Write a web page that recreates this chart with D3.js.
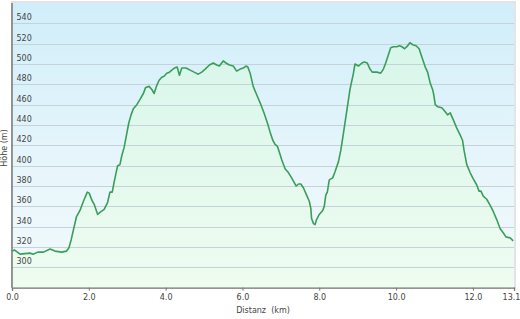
<!DOCTYPE html>
<html><head><meta charset="utf-8">
<script src="https://cdn.jsdelivr.net/npm/d3@7"></script>
<style>
html,body{margin:0;padding:0;background:#fff;}
svg{display:block;font-family:"DejaVu Sans",Verdana,sans-serif;}
</style></head>
<body><svg id="c" width="520" height="319"></svg>
<script>
const distanceKm = [0.00,0.07,0.21,0.47,0.55,0.67,0.82,0.99,1.12,1.29,1.42,1.48,1.54,1.60,1.68,1.77,1.86,1.96,2.01,2.08,2.14,2.23,2.29,2.40,2.49,2.55,2.61,2.66,2.75,2.81,2.86,2.92,2.99,3.04,3.10,3.16,3.25,3.33,3.42,3.48,3.57,3.64,3.70,3.77,3.83,3.90,3.96,4.03,4.10,4.16,4.23,4.30,4.36,4.42,4.53,4.64,4.74,4.85,4.94,5.03,5.14,5.24,5.33,5.40,5.50,5.57,5.66,5.76,5.85,5.94,6.02,6.09,6.14,6.20,6.28,6.39,6.48,6.56,6.65,6.72,6.79,6.85,6.91,6.98,7.02,7.11,7.20,7.28,7.40,7.46,7.52,7.59,7.67,7.74,7.78,7.80,7.85,7.89,7.93,8.00,8.09,8.13,8.17,8.21,8.26,8.35,8.41,8.50,8.56,8.63,8.72,8.80,8.89,8.93,9.02,9.11,9.17,9.25,9.32,9.38,9.50,9.60,9.67,9.73,9.80,9.86,9.93,10.02,10.09,10.15,10.22,10.28,10.36,10.43,10.52,10.60,10.67,10.76,10.82,10.89,10.95,10.98,11.02,11.08,11.19,11.28,11.34,11.41,11.49,11.58,11.67,11.73,11.77,11.84,11.93,12.01,12.10,12.16,12.21,12.27,12.36,12.45,12.53,12.62,12.71,12.79,12.86,12.97,13.05];
const elevationM = [316,317,313,314,313,315,315,318,316,315,316,319,327,337,350,356,365,374,373,366,362,352,354,357,364,374,374,384,400,401,410,418,432,442,450,456,460,465,471,477,478,475,471,479,484,487,488,491,492,494,496,497,489,496,496,494,492,490,492,495,499,501,499,498,503,501,499,498,493,495,496,498,497,491,478,468,460,452,442,433,425,421,419,411,406,397,393,388,380,382,382,378,371,365,358,348,343,342,347,352,356,360,371,374,386,388,394,404,415,432,455,475,491,500,498,501,502,501,495,492,492,491,495,501,509,516,517,517,518,517,515,517,521,519,518,515,507,497,492,481,475,470,460,458,457,453,450,452,445,437,430,425,415,401,393,387,381,375,375,370,367,361,355,347,338,334,330,329,326];
const xTickValues = [0,2,4,6,8,10,12,13.07];
const yTickValues = [300,320,340,360,380,400,420,440,460,480,500,520,540];
const xTitle = "Distanz  (km)";
const yTitle = "Höhe (m)";

const svg = d3.select("#c");
const L = 12, R = 514, T = 3, B = 287.7;
const x = d3.scaleLinear().domain([0, 13.07]).range([L, R]);
const y = d3.scaleLinear().domain([280, 560]).range([B, T]);
const data = distanceKm.map((d,i)=>({d, e: elevationM[i]}));

const defs = svg.append("defs");
const bg = defs.append("linearGradient").attr("id","bg").attr("x1",0).attr("y1",0).attr("x2",0).attr("y2",1);
bg.append("stop").attr("offset","0%").attr("stop-color","#d0eefa");
bg.append("stop").attr("offset","60%").attr("stop-color","#e8f6fb");
bg.append("stop").attr("offset","100%").attr("stop-color","#f2fafc");
const ar = defs.append("linearGradient").attr("id","ar").attr("gradientUnits","userSpaceOnUse")
  .attr("x1",0).attr("y1",T).attr("x2",0).attr("y2",B);
ar.append("stop").attr("offset","0%").attr("stop-color","#d4f5ea");
ar.append("stop").attr("offset","100%").attr("stop-color","#effcf0");

// top/right shadow border
svg.append("rect").attr("x",L).attr("y",T-1).attr("width",R-L+1).attr("height",B-T+1)
  .attr("fill","none").attr("stroke","#dcdcdc").attr("stroke-width",1.5);
svg.append("rect").attr("x",L).attr("y",T).attr("width",R-L).attr("height",B-T).attr("fill","url(#bg)");

svg.append("path").datum(data)
  .attr("d", d3.area().x(d=>x(d.d)).y0(B).y1(d=>y(d.e)))
  .attr("fill","url(#ar)");

// gridlines
svg.append("g").selectAll("line").data(yTickValues).join("line")
  .attr("x1",L).attr("x2",R).attr("y1",d=>Math.round(y(d))+0.5).attr("y2",d=>Math.round(y(d))+0.5)
  .attr("stroke","#c5d3d8").attr("stroke-width",1.2);

svg.append("path").datum(data)
  .attr("d", d3.line().x(d=>x(d.d)).y(d=>y(d.e)))
  .attr("fill","none").attr("stroke","#3a9e5a").attr("stroke-width",1.6).attr("stroke-linejoin","round");

// y labels inside
svg.append("g").selectAll("text").data(yTickValues).join("text")
  .attr("x",L+4.5).attr("y",d=>y(d)-3)
  .attr("font-size",8).attr("fill","#444").text(d=>d);

// axes
const xa = svg.append("g").attr("transform",`translate(0,${B})`)
  .call(d3.axisBottom(x).tickValues(xTickValues).tickFormat(d3.format(".1f")).tickSize(3).tickPadding(4));
xa.select(".domain").attr("stroke","#777").attr("stroke-width",1.3);
xa.selectAll(".tick line").attr("stroke","#777");
xa.selectAll("text").attr("font-size",8).attr("fill","#444").attr("font-family","DejaVu Sans, sans-serif");
xa.selectAll(".tick").filter((d,i)=>i===xTickValues.length-1).select("text").attr("dx",-3);

svg.append("line").attr("x1",L).attr("x2",L).attr("y1",T).attr("y2",B)
  .attr("stroke","#777").attr("stroke-width",1.5);

svg.append("text").attr("x",(L+R)/2).attr("y",313).attr("text-anchor","middle")
  .attr("font-size",8).attr("fill","#444").attr("xml:space","preserve").style("white-space","pre").text(xTitle);
svg.append("text").attr("transform","translate(7,148) rotate(-90)").attr("text-anchor","middle")
  .attr("font-size",8).attr("fill","#444").text(yTitle);
</script></body></html>
